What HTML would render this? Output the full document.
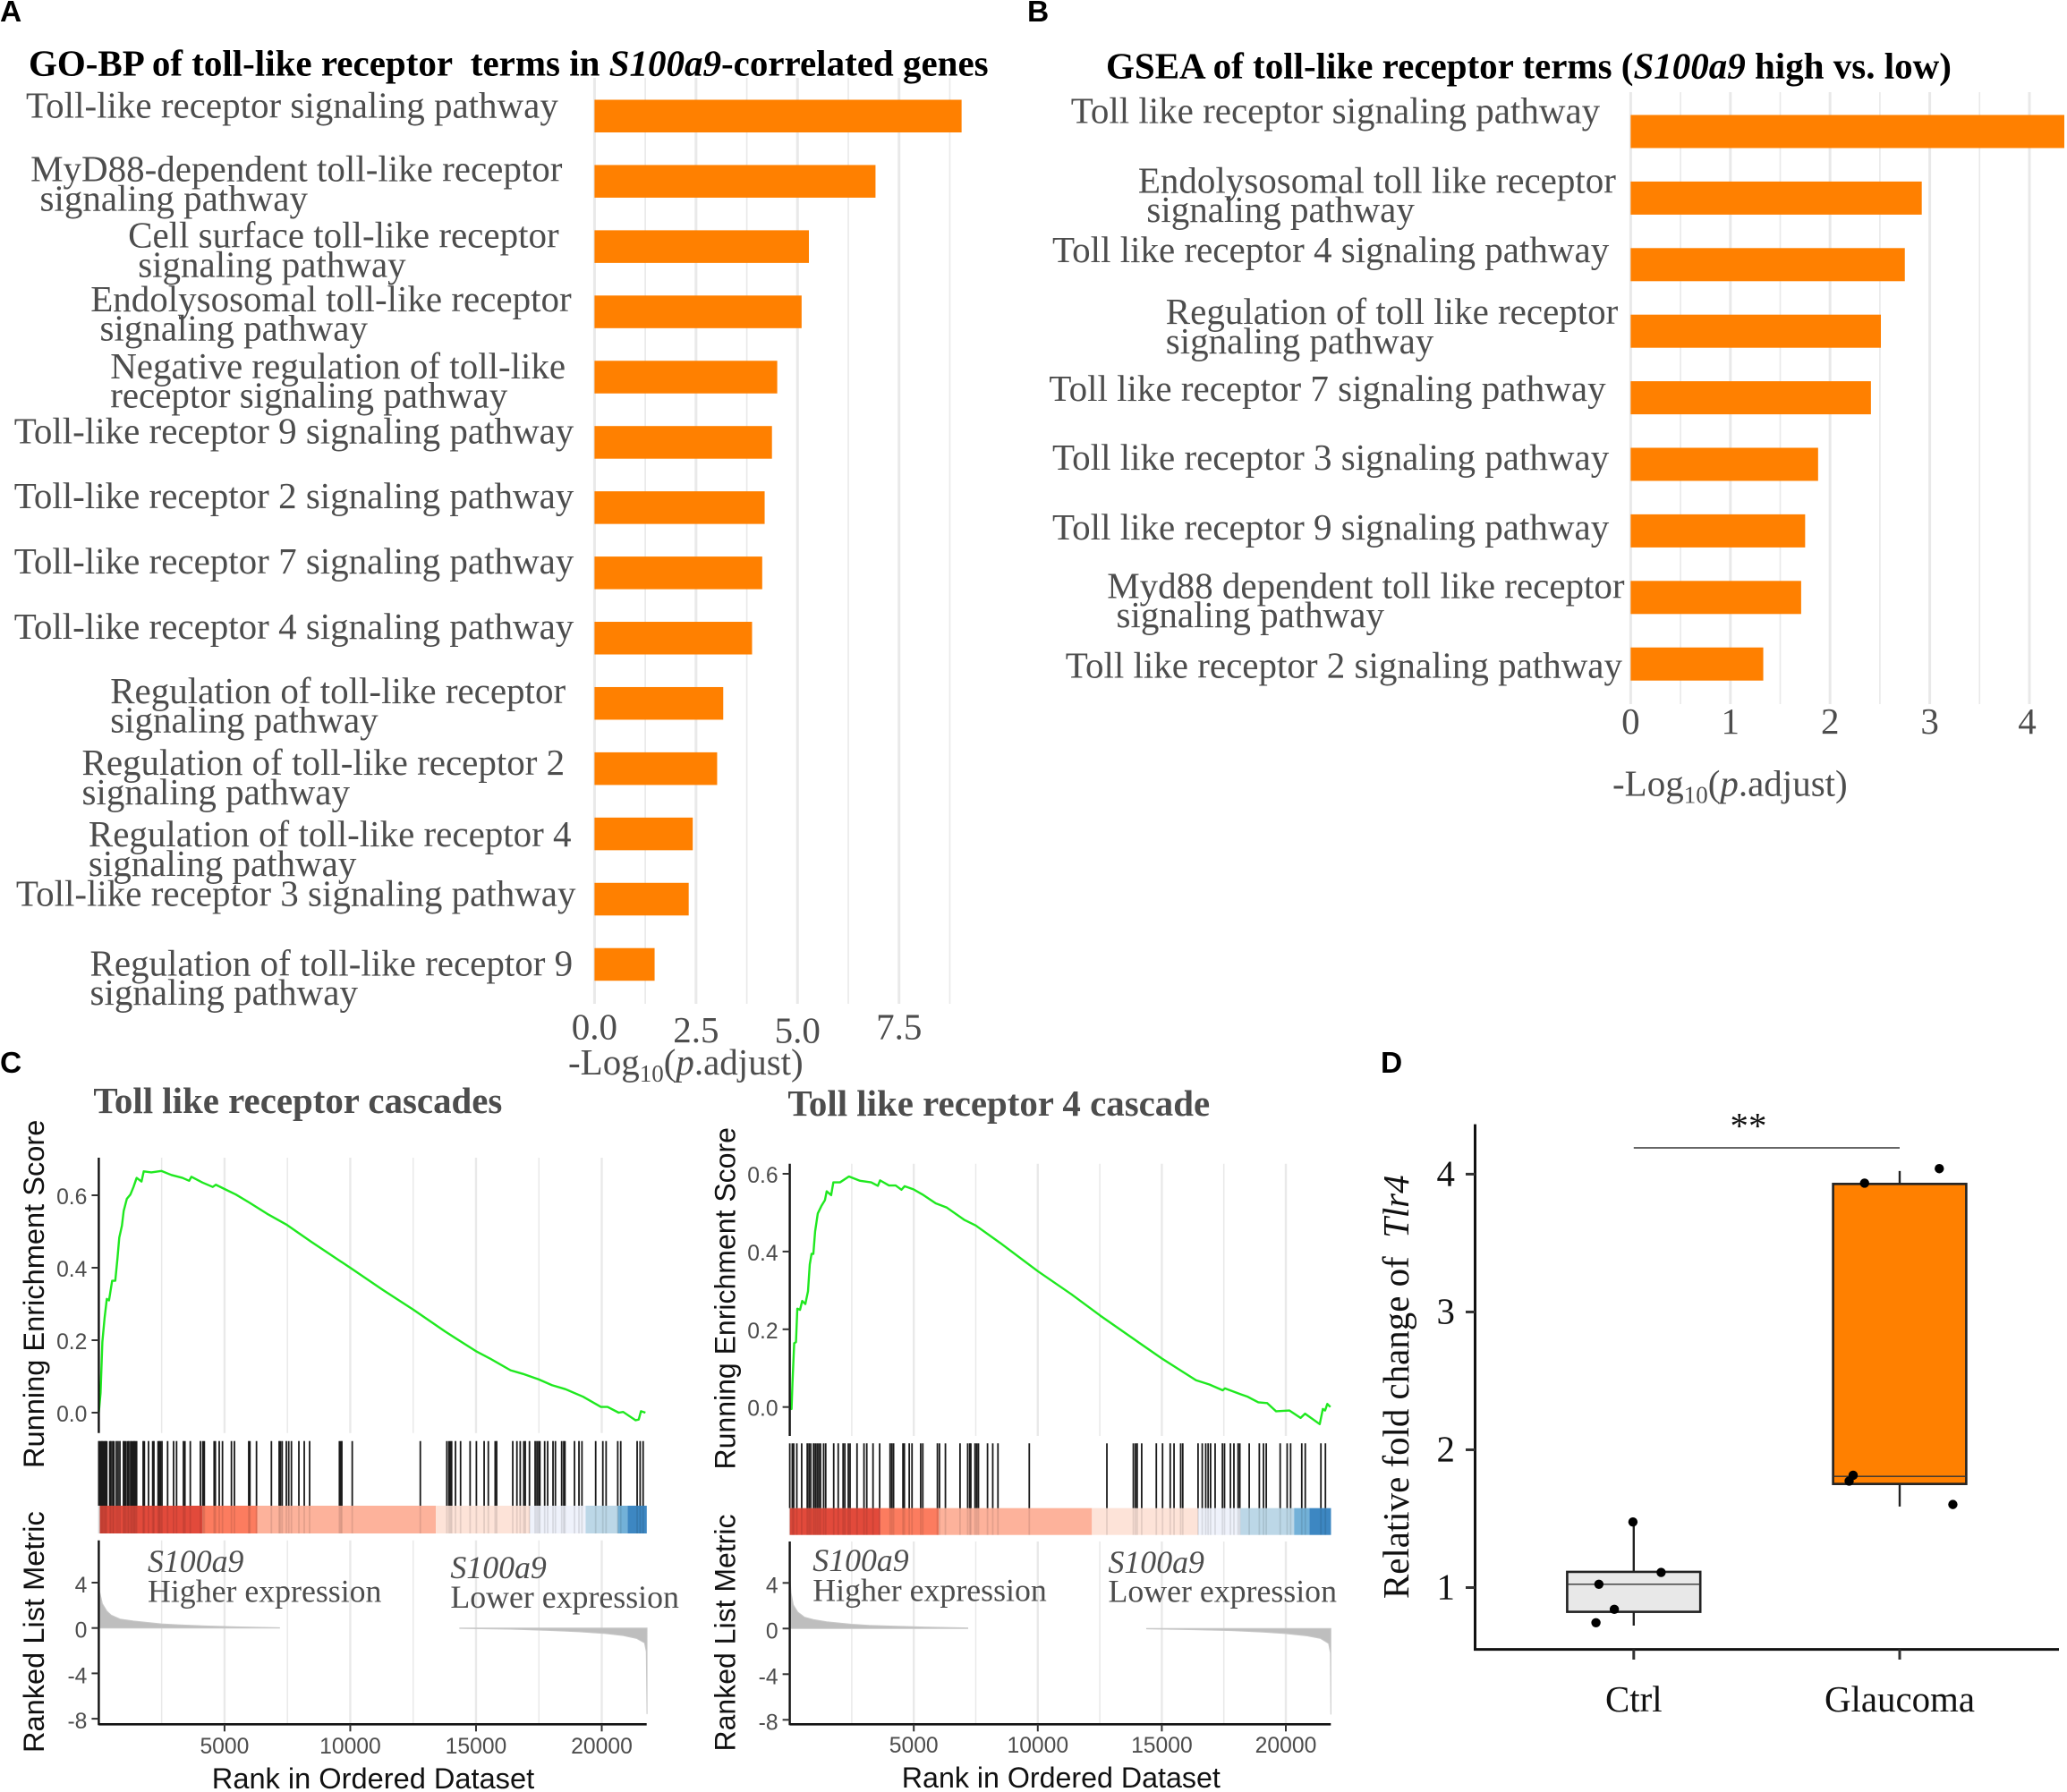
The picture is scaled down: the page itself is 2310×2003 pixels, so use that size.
<!DOCTYPE html>
<html lang="en">
<head>
<meta charset="utf-8">
<title>Toll-like receptor enrichment figure</title>
<style>
html,body{margin:0;padding:0;background:#fff;}
svg{display:block;}
text{white-space:pre;}
.panel{font:bold 33.5px "Liberation Sans",Arial,sans-serif;fill:#000;}
.title{font:bold 41px "Liberation Serif","Times New Roman",serif;fill:#000;}
.gtitle{font:bold 40.9px "Liberation Serif","Times New Roman",serif;fill:#4d4d4d;}
.lab{font:41px "Liberation Serif","Times New Roman",serif;fill:#4d4d4d;}
.anno{font:35.8px "Liberation Serif","Times New Roman",serif;fill:#4d4d4d;}
.sans{font:32.6px "Liberation Sans",Arial,sans-serif;fill:#111;}
.tick{font:24.7px "Liberation Sans",Arial,sans-serif;fill:#4d4d4d;}
.dtext{font:40.9px "Liberation Serif","Times New Roman",serif;fill:#111;}
</style>
</head>
<body>
<svg id="fig" xmlns="http://www.w3.org/2000/svg" width="2310" height="2003" viewBox="0 0 2310 2003">
<rect x="0" y="0" width="2310" height="2003" fill="#fff"/>
<g id="marks"></g>

<text class="panel" x="0" y="24">A</text>
<text class="panel" x="1148" y="24">B</text>
<text class="panel" x="0" y="1199">C</text>
<text class="panel" x="1543" y="1199">D</text>

<text class="title" x="32" y="84.5">GO-BP of toll-like receptor  terms in <tspan font-style="italic">S100a9</tspan>-correlated genes</text>
<text class="title" x="1236" y="87.5">GSEA of toll-like receptor terms (<tspan font-style="italic">S100a9</tspan> high vs. low)</text>

<g transform="translate(-0.5 1)">
<text class="lab" x="29.5" y="130.5">Toll-like receptor signaling pathway</text>
<text class="lab"><tspan x="34.6" y="201.7">MyD88-dependent toll-like receptor</tspan><tspan x="45" y="234.5">signaling pathway</tspan></text>
<text class="lab"><tspan x="143.6" y="275.6">Cell surface toll-like receptor</tspan><tspan x="154.7" y="308.4">signaling pathway</tspan></text>
<text class="lab"><tspan x="101.7" y="346.8">Endolysosomal toll-like receptor</tspan><tspan x="112" y="379.6">signaling pathway</tspan></text>
<text class="lab"><tspan x="123.7" y="421.9">Negative regulation of toll-like</tspan><tspan x="123.7" y="454.7">receptor signaling pathway</tspan></text>
<text class="lab" x="16.2" y="494.3">Toll-like receptor 9 signaling pathway</text>
<text class="lab" x="16.2" y="567">Toll-like receptor 2 signaling pathway</text>
<text class="lab" x="16.2" y="639.8">Toll-like receptor 7 signaling pathway</text>
<text class="lab" x="16.2" y="712.9">Toll-like receptor 4 signaling pathway</text>
<text class="lab"><tspan x="123.7" y="784.9">Regulation of toll-like receptor</tspan><tspan x="123.7" y="817.7">signaling pathway</tspan></text>
<text class="lab"><tspan x="92" y="865">Regulation of toll-like receptor 2</tspan><tspan x="92" y="898">signaling pathway</tspan></text>
<text class="lab"><tspan x="99.4" y="945">Regulation of toll-like receptor 4</tspan><tspan x="99.4" y="977.8">signaling pathway</tspan></text>
<text class="lab" x="18.4" y="1011.4">Toll-like receptor 3 signaling pathway</text>
<text class="lab"><tspan x="101" y="1089.7">Regulation of toll-like receptor 9</tspan><tspan x="101" y="1122">signaling pathway</tspan></text>
</g>
<text class="lab" x="635" y="1201">-Log<tspan font-size="27" dy="8">10</tspan><tspan dy="-8">(</tspan><tspan font-style="italic">p</tspan>.adjust)</text>

<g transform="translate(-1 1)">
<text class="lab" x="1197.7" y="136.4">Toll like receptor signaling pathway</text>
<text class="lab"><tspan x="1272.9" y="214.7">Endolysosomal toll like receptor</tspan><tspan x="1282.4" y="247">signaling pathway</tspan></text>
<text class="lab" x="1177" y="291.8">Toll like receptor 4 signaling pathway</text>
<text class="lab"><tspan x="1303.8" y="361">Regulation of toll like receptor</tspan><tspan x="1303.8" y="394.2">signaling pathway</tspan></text>
<text class="lab" x="1173.4" y="446.8">Toll like receptor 7 signaling pathway</text>
<text class="lab" x="1177" y="523.9">Toll like receptor 3 signaling pathway</text>
<text class="lab" x="1177" y="601.8">Toll like receptor 9 signaling pathway</text>
<text class="lab"><tspan x="1238.2" y="667.7">Myd88 dependent toll like receptor</tspan><tspan x="1248.5" y="700">signaling pathway</tspan></text>
<text class="lab" x="1191.8" y="756.7">Toll like receptor 2 signaling pathway</text>
</g>
<text class="lab" x="1802" y="889.3">-Log<tspan font-size="27" dy="8">10</tspan><tspan dy="-8">(</tspan><tspan font-style="italic">p</tspan>.adjust)</text>

<text class="gtitle" x="104.4" y="1244">Toll like receptor cascades</text>
<text class="gtitle" x="880.4" y="1247">Toll like receptor 4 cascade</text>

<text class="sans" transform="translate(49 1641) rotate(-90)">Running Enrichment Score</text>
<text class="sans" transform="translate(49 1959) rotate(-90)">Ranked List Metric</text>
<text class="sans" x="236.8" y="1999">Rank in Ordered Dataset</text>
<text class="sans" style="font-size:32px" transform="translate(821.5 1642.5) rotate(-90)">Running Enrichment Score</text>
<text class="sans" style="font-size:32px" transform="translate(821.5 1957.5) rotate(-90)">Ranked List Metric</text>
<text class="sans" style="font-size:32.2px" x="1007.8" y="1998">Rank in Ordered Dataset</text>

<g id="annotations">
<text class="anno"><tspan x="165" y="1757.2" font-style="italic">S100a9</tspan><tspan x="165" y="1790.5">Higher expression</tspan></text>
<text class="anno"><tspan x="503.4" y="1763.8" font-style="italic">S100a9</tspan><tspan x="503.4" y="1797.2">Lower expression</tspan></text>
<text class="anno"><tspan x="908.3" y="1756.2" font-style="italic">S100a9</tspan><tspan x="908.3" y="1789.5">Higher expression</tspan></text>
<text class="anno"><tspan x="1238.5" y="1757.8" font-style="italic">S100a9</tspan><tspan x="1238.5" y="1790.5">Lower expression</tspan></text>
</g>

<text class="dtext" transform="translate(1574 1787) rotate(-90)">Relative fold change of  <tspan font-style="italic">Tlr4</tspan></text>
<text class="dtext" x="1954" y="1272" text-anchor="middle" font-weight="bold">**</text>

<script>
// ---------- Panel A data ----------
const goCategories = ['tlr-signaling','myd88-dependent','cell-surface','endolysosomal','negative-regulation','tlr9','tlr2','tlr7','tlr4','regulation','regulation-tlr2','regulation-tlr4','tlr3','regulation-tlr9'];
const goValues = [9.04,6.92,5.28,5.10,4.50,4.37,4.19,4.13,3.88,3.17,3.02,2.42,2.32,1.48];
const goMajorTicks = [0,2.5,5,7.5];
const goMinorTicks = [1.25,3.75,6.25,8.75];
const goTickLabels = ['0.0','2.5','5.0','7.5'];

// ---------- Panel B data ----------
const gseaCategories = ['tlr-signaling','endolysosomal','tlr4','regulation','tlr7','tlr3','tlr9','myd88-dependent','tlr2'];
const gseaValues = [4.35,2.92,2.75,2.51,2.41,1.88,1.75,1.71,1.33];
const gseaMajorTicks = [0,1,2,3,4];
const gseaMinorTicks = [0.5,1.5,2.5,3.5];
const gseaTickLabels = ['0','1','2','3','4'];

// ---------- Panel C shared axis data ----------
const rankMajorTicks = [5000,10000,15000,20000];
const rankMinorTicks = [2500,7500,12500,17500];
const rankTickLabels = ['5000','10000','15000','20000'];
const metricTicks = [4,0,-4,-8];
const metricTickLabels = ['4','0','-4','-8'];
const heatColors = ['#e24a3b','#fc7c5f','#fdb29b','#fde3d8','#eff2fb','#bcd7e7','#73b1d8','#3d87c2'];

// ---------- Toll like receptor cascades ----------
const cascadeRanks = [0,71,142,230,319,407,531,655,743,814,920,991,1115,1257,1381,1505,1699,1788,2089,2496,2885,3328,3593,3682,4124,4531,4655,5009,5452,5983,6691,7487,8461,10018,11293,12514,13771,14992,15541,16373,16868,17488,18019,18550,19258,19966,20231,20673,20851,21346,21470,21559,21736];
const cascadeScores = [0,.055,.195,.261,.314,.310,.364,.364,.426,.483,.516,.557,.590,.602,.623,.648,.638,.666,.663,.667,.656,.648,.640,.651,.635,.623,.629,.617,.602,.580,.549,.518,.471,.399,.339,.284,.224,.170,.150,.117,.107,.092,.076,.065,.044,.016,.016,0,.002,-.021,-.019,.004,0];
const cascadeEsTicks = [0,0.2,0.4,0.6];
const cascadeEsLabels = ['0.0','0.2','0.4','0.6'];
const cascadeHits = [0,33,81,128,176,222,270,318,436,484,555,602,697,768,840,981,1028,1076,1148,1195,1267,1314,1361,1409,1456,1504,1765,1812,1978,2144,2191,2358,2405,2453,2512,2737,2974,3093,3366,3425,3639,4042,4137,4196,4587,4635,4789,4919,5275,5394,5963,6010,6271,6864,7173,7221,7292,7458,7553,7660,7956,8170,8383,9569,9617,9664,10078,12785,13840,13923,13983,14030,14184,14386,14765,15015,15323,15489,15762,15821,16461,16627,16758,16900,16959,17125,17351,17422,17493,17540,17730,17849,18062,18157,18406,18489,18537,18916,19094,19213,19758,20043,20173,20636,20755,21407,21526,21645];
const cascadeHeatBreaks = [40,4125,6302,13402,17139,19359,20640,21025,21790];
const cascadePosRanks = [0,35,142,319,496,850,1381,2496,3150,4212,5452,7186];
const cascadePosMetric = [4.6,3.2,2.15,1.5,1.13,.79,.62,.36,.28,.18,.10,.03];
const cascadeNegRanks = [14355,16373,17842,19081,20143,20851,21382,21700,21771,21800];
const cascadeNegMetric = [-.03,-.10,-.21,-.33,-.49,-.67,-.92,-1.31,-2.08,-7.59];

// ---------- Toll like receptor 4 cascade ----------
const tlr4Ranks = [0,72,108,179,251,305,413,502,628,736,807,879,951,1023,1130,1274,1417,1489,1668,1758,2027,2386,2835,3283,3552,3642,4001,4270,4503,4629,4987,5346,5884,6333,7050,7499,8486,10011,11356,12522,13868,14998,15662,16379,16917,17456,17545,18173,18443,18891,19250,19608,20147,20595,20775,21366,21492,21582,21672,21797];
const tlr4Scores = [0,-.005,.060,.164,.167,.253,.250,.273,.265,.298,.367,.394,.394,.452,.498,.517,.532,.555,.545,.578,.578,.593,.582,.578,.569,.583,.570,.570,.559,.568,.560,.547,.524,.513,.481,.467,.422,.349,.290,.235,.175,.125,.098,.069,.058,.043,.048,.033,.027,.012,.010,-.011,-.009,-.028,-.017,-.044,-.005,-.009,.008,0];
const tlr4EsTicks = [0,0.2,0.4,0.6];
const tlr4EsLabels = ['0.0','0.2','0.4','0.6'];
const tlr4Hits = [0,102,159,285,481,706,776,846,958,1028,1099,1169,1239,1365,1449,1772,1954,2151,2221,2361,2431,2712,2993,3105,3357,3624,4045,4115,4185,4564,4620,4817,4929,5279,5364,5953,6037,6276,6865,7174,7258,7300,7468,7538,7608,7973,8184,8394,9657,12786,13852,13936,14006,14189,14778,15030,15339,15493,15760,15844,16461,16630,16770,16868,16966,17149,17444,17528,17767,17907,18075,18145,18524,18931,19099,19211,19772,20053,20193,20642,20783,21414,21596];
const tlr4HeatBreaks = [0,3652,6009,12182,16461,18173,20334,20951,21821];
const tlr4PosRanks = [0,54,143,323,592,951,1489,2494,3193,4180,5436,7176];
const tlr4PosMetric = [4.64,3.1,2.08,1.44,1.0,.79,.59,.38,.28,.21,.13,.05];
const tlr4NegRanks = [14388,16343,17814,19070,19967,20864,21402,21725,21797,21815];
const tlr4NegMetric = [-.03,-.10,-.18,-.31,-.44,-.64,-.87,-1.31,-2.15,-7.54];

// ---------- Panel D data ----------
const boxCategories = ['Ctrl','Glaucoma'];
const boxYTicks = [1,2,3,4];
const boxYLabels = ['1','2','3','4'];
const ctrlBoxStats = [0.724,0.824,1.024,1.114,1.477];
const glaucomaBoxStats = [1.588,1.752,1.807,3.929,4.023];
const ctrlPoints = [1.476,1.110,1.024,0.842,0.745];
const ctrlJitter = [-0.003,0.103,-0.131,-0.073,-0.142];
const glaucomaPoints = [3.935,4.04,1.815,1.773,1.603];
const glaucomaJitter = [-0.132,0.149,-0.175,-0.19,0.2];

const SVGNS = 'http://www.w3.org/2000/svg';
const root = document.getElementById('marks');

function mk(tag, attrs, name, text) {
  const node = document.createElementNS(SVGNS, tag);
  for (const k in attrs) node.setAttribute(k, attrs[k]);
  
  
  if (text !== undefined) node.textContent = text;
  root.appendChild(node);
  return node;
}
function linear(d0, d1, r0, r1) {
  return function (v) { return r0 + (v - d0) * (r1 - r0) / (d1 - d0); };
}
function poly(xs, ys) {
  return xs.map(function (x, i) { return x.toFixed(2) + ',' + ys[i].toFixed(2); }).join(' ');
}

function vGrid(ticks, scale, y0, y1, width, name) {
  ticks.forEach(function (t) {
    mk('line', {x1: scale(t), x2: scale(t), y1: y0, y2: y1, stroke: '#e9e9e9', 'stroke-width': width}, name + '-' + t);
  });
}

function barPanel(prefix, cats, vals, major, minor, labels, xs, ys, barH, gridTop, gridBottom, labelY, nudgeX, nudgeY) {
  vGrid(major, xs, gridTop, gridBottom, 3, prefix + '-major-gridline');
  vGrid(minor, xs, gridTop, gridBottom, 1.6, prefix + '-minor-gridline');
  vals.forEach(function (v, i) {
    mk('rect', {x: xs(0), y: ys(i), width: xs(v) - xs(0), height: barH, fill: '#ff8000'}, prefix + '-bar-' + cats[i]);
  });
  major.forEach(function (t, i) {
    mk('text', {x: xs(t) + nudgeX[i], y: labelY + nudgeY[i], 'text-anchor': 'middle', 'class': 'lab'}, prefix + '-x-tick-label-' + labels[i], labels[i]);
  });
}

barPanel('go', goCategories, goValues, goMajorTicks, goMinorTicks, goTickLabels,
  linear(0, 5, 664.4, 891.3), function (i) { return 111.5 + 72.94 * i; }, 36.5, 87, 1122, 1163.5,
  [0, 0, 0, 0], [-2, 1.5, 2, -2]);
barPanel('gsea', gseaCategories, gseaValues, gseaMajorTicks, gseaMinorTicks, gseaTickLabels,
  linear(0, 4, 1822.4, 2268), function (i) { return 128.5 + 74.4 * i; }, 37, 103, 787, 819.8,
  [0, 0, 0, 0, -2.5], [0, 0, 0, 0, 0]);

function gsea(o) {
  const x = linear(0, 20000, o.x0, o.x20k);
  const yEs = linear(0, 0.6, o.es0, o.es6);
  const yM = linear(0, 4, o.m0, o.m4);
  const n = o.prefix;
  [[o.esTop, o.esBottom], [o.mTop, o.mBottom]].forEach(function (r, idx) {
    const label = n + (idx ? '-metric' : '-es');
    vGrid(rankMajorTicks, x, r[0], r[1], 2.4, label + '-major-gridline');
    vGrid(rankMinorTicks, x, r[0], r[1], 1.5, label + '-minor-gridline');
  });
  // Heat strip
  for (let i = 0; i < heatColors.length; i++) {
    mk('rect', {x: x(o.heat[i]), y: o.heatTop, width: x(o.heat[i + 1]) - x(o.heat[i]), height: o.heatBottom - o.heatTop, fill: heatColors[i]}, n + '-heat-segment-' + i);
  }
  // Hit rug
  o.hits.forEach(function (h) {
    mk('line', {x1: x(h), x2: x(h), y1: o.rugTop, y2: o.heatTop, stroke: '#1a1a1a', 'stroke-width': 1.8}, n + '-gene-hit');
    mk('line', {x1: x(h), x2: x(h), y1: o.heatTop, y2: o.heatBottom, stroke: '#000', 'stroke-opacity': 0.1, 'stroke-width': 1.8}, n + '-gene-hit-overlay');
  });
  // Running score line
  mk('polyline', {points: poly(o.ranks.map(x), o.scores.map(yEs)), fill: 'none', stroke: '#1fe81f', 'stroke-width': 2.4, 'stroke-linejoin': 'round'}, n + '-running-score-line');
  // Ranked metric areas
  const posXs = o.posRanks.map(x), posYs = o.posMetric.map(yM);
  mk('polygon', {points: poly([x(0)].concat(posXs, [posXs[posXs.length - 1]]), [o.m0].concat(posYs, [o.m0])), fill: '#bebebe', stroke: '#c8c8c8', 'stroke-width': 1}, n + '-positive-metric-area');
  const negXs = o.negRanks.map(x), negYs = o.negMetric.map(yM);
  mk('polygon', {points: poly([negXs[0]].concat(negXs, [negXs[negXs.length - 1]]), [o.m0].concat(negYs, [o.m0])), fill: '#bebebe', stroke: '#c8c8c8', 'stroke-width': 1}, n + '-negative-metric-area');
  // Axes
  mk('line', {x1: o.x0, x2: o.x0, y1: o.esTop, y2: o.esBottom, stroke: '#111', 'stroke-width': 2.4}, n + '-es-y-axis');
  mk('line', {x1: o.x0, x2: o.x0, y1: o.mTop, y2: o.mBottom + 1, stroke: '#111', 'stroke-width': 2.4}, n + '-metric-y-axis');
  mk('line', {x1: o.x0, x2: o.xEnd, y1: o.mBottom, y2: o.mBottom, stroke: '#111', 'stroke-width': 2.6}, n + '-x-axis');
  o.esTicks.forEach(function (t, i) {
    mk('line', {x1: o.x0 - 8, x2: o.x0, y1: yEs(t), y2: yEs(t), stroke: '#333', 'stroke-width': 2}, n + '-es-tick');
    mk('text', {x: o.x0 - 13, y: yEs(t) + 10, 'text-anchor': 'end', 'class': 'tick'}, n + '-es-tick-label', o.esLabels[i]);
  });
  metricTicks.forEach(function (t, i) {
    mk('line', {x1: o.x0 - 8, x2: o.x0, y1: yM(t), y2: yM(t), stroke: '#333', 'stroke-width': 2}, n + '-metric-tick');
    mk('text', {x: o.x0 - 13, y: yM(t) + 11, 'text-anchor': 'end', 'class': 'tick'}, n + '-metric-tick-label', metricTickLabels[i]);
  });
  rankMajorTicks.forEach(function (t, i) {
    mk('line', {x1: x(t), x2: x(t), y1: o.mBottom, y2: o.mBottom + 8, stroke: '#333', 'stroke-width': 2}, n + '-rank-tick');
    mk('text', {x: x(t), y: o.rankLabelY, 'text-anchor': 'middle', 'class': 'tick'}, n + '-rank-tick-label', rankTickLabels[i]);
  });
}

gsea({prefix: 'cascade', x0: 110.4, x20k: 672.5, xEnd: 722.7,
  es0: 1579, es6: 1336, esTop: 1294, esBottom: 1601.7,
  m0: 1819.7, m4: 1769, mTop: 1721.7, mBottom: 1927.3,
  rugTop: 1610.7, heatTop: 1683, heatBottom: 1714, rankLabelY: 1960,
  ranks: cascadeRanks, scores: cascadeScores, hits: cascadeHits, heat: cascadeHeatBreaks,
  posRanks: cascadePosRanks, posMetric: cascadePosMetric, negRanks: cascadeNegRanks, negMetric: cascadeNegMetric,
  esTicks: cascadeEsTicks, esLabels: cascadeEsLabels});

gsea({prefix: 'tlr4', x0: 882.6, x20k: 1437, xEnd: 1487.3,
  es0: 1572.7, es6: 1312, esTop: 1300.7, esBottom: 1605,
  m0: 1820.3, m4: 1769.3, mTop: 1723, mBottom: 1927.3,
  rugTop: 1613.3, heatTop: 1685.7, heatBottom: 1715.7, rankLabelY: 1959,
  ranks: tlr4Ranks, scores: tlr4Scores, hits: tlr4Hits, heat: tlr4HeatBreaks,
  posRanks: tlr4PosRanks, posMetric: tlr4PosMetric, negRanks: tlr4NegRanks, negMetric: tlr4NegMetric,
  esTicks: tlr4EsTicks, esLabels: tlr4EsLabels});

// ---------- Panel D ----------
(function () {
  const y = linear(1, 4, 1774.5, 1312.4);
  const x = linear(0, 1, 1825.8, 2123);
  const boxW = 148.8;
  function box(stats, pos, fill, name) {
    const cx = x(pos);
    mk('line', {x1: cx, x2: cx, y1: y(stats[0]), y2: y(stats[1]), stroke: '#222', 'stroke-width': 2.4}, name + '-lower-whisker');
    mk('line', {x1: cx, x2: cx, y1: y(stats[3]), y2: y(stats[4]), stroke: '#222', 'stroke-width': 2.4}, name + '-upper-whisker');
    mk('rect', {x: cx - boxW / 2, y: y(stats[3]), width: boxW, height: y(stats[1]) - y(stats[3]), fill: fill, stroke: '#222', 'stroke-width': 2.6}, name + '-box');
    mk('line', {x1: cx - boxW / 2, x2: cx + boxW / 2, y1: y(stats[2]), y2: y(stats[2]), stroke: '#333', 'stroke-width': 1.4}, name + '-median');
  }
  box(ctrlBoxStats, 0, '#e8e8e8', 'ctrl');
  box(glaucomaBoxStats, 1, '#ff8000', 'glaucoma');
  ctrlPoints.forEach(function (v, i) {
    mk('circle', {cx: x(ctrlJitter[i]), cy: y(v), r: 5.2, fill: '#000'}, 'ctrl-point');
  });
  glaucomaPoints.forEach(function (v, i) {
    mk('circle', {cx: x(1 + glaucomaJitter[i]), cy: y(v), r: 5.2, fill: '#000'}, 'glaucoma-point');
  });
  mk('line', {x1: x(0), x2: x(1), y1: 1283, y2: 1283, stroke: '#333', 'stroke-width': 1.5}, 'significance-bracket');
  mk('line', {x1: 1648.5, x2: 1648.5, y1: 1256.6, y2: 1845, stroke: '#111', 'stroke-width': 3}, 'boxplot-y-axis');
  mk('line', {x1: 1647, x2: 2301, y1: 1843.6, y2: 1843.6, stroke: '#111', 'stroke-width': 3}, 'boxplot-x-axis');
  boxYTicks.forEach(function (t, i) {
    mk('line', {x1: 1638, x2: 1648.5, y1: y(t), y2: y(t), stroke: '#333', 'stroke-width': 3}, 'boxplot-y-tick');
    mk('text', {x: 1626, y: y(t) + 13, 'text-anchor': 'end', 'class': 'dtext'}, 'boxplot-y-tick-label', boxYLabels[i]);
  });
  boxCategories.forEach(function (c, i) {
    mk('line', {x1: x(i), x2: x(i), y1: 1843.6, y2: 1855, stroke: '#333', 'stroke-width': 3}, 'boxplot-x-tick');
    mk('text', {x: x(i), y: 1913, 'text-anchor': 'middle', 'class': 'dtext'}, 'boxplot-x-label-' + c.toLowerCase(), c);
  });
})();
</script>
</svg>
</body>
</html>
